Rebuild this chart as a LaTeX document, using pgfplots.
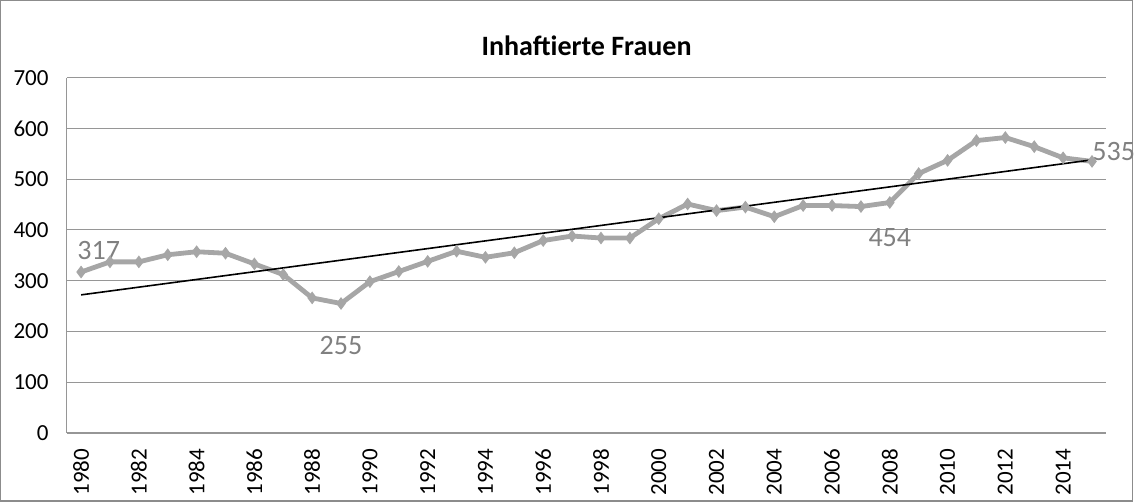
\documentclass[border=0pt]{standalone}
\usepackage{fontspec}
\setmainfont{Carlito}
\usepackage{pgfplots}
\pgfplotsset{compat=1.18}
\definecolor{linegray}{RGB}{166,166,166}
\definecolor{gridgray}{RGB}{150,150,150}
\definecolor{labelgray}{RGB}{128,128,128}
\definecolor{framegray}{RGB}{140,140,140}
\begin{document}
\begin{tikzpicture}
\begin{axis}[
  scale only axis, width=519.5pt, height=177.5pt,
  xmin=1979.5, xmax=2015.5, ymin=0, ymax=700,
  xtick={1980,1982,...,2014}, ytick={0,100,...,700},
  axis x line*=bottom, axis y line*=left,
  axis line style={gridgray, line width=0.7pt, -},
  ymajorgrids, grid style={gridgray, line width=0.5pt},
  major tick length=0pt,
  /pgf/number format/assume math mode=true,
  x tick label style={rotate=90, anchor=east, font=\fontsize{11.5}{12}\selectfont,
    /pgf/number format/1000 sep={}, xshift=-4.5pt},
  y tick label style={font=\fontsize{11.5}{12}\selectfont, xshift=-5.5pt},
  clip=false,
  title={\textbf{Inhaftierte Frauen}},
  title style={at={(0.5,1)}, anchor=center, yshift=10pt, font=\fontsize{14}{16}\selectfont},
]
% Rahmen um das Diagramm
\draw[framegray, line width=0.6pt] ([xshift=-33pt,yshift=-34pt]rel axis cs:0,0)
  rectangle ([xshift=13pt,yshift=38.5pt]rel axis cs:1,1);

\addplot[linegray, line width=2.4pt, mark=diamond*, mark size=2.8pt,
  mark options={fill=linegray, draw=linegray, line width=0.5pt}] coordinates {
  (1980,317) (1981,337) (1982,337) (1983,351) (1984,357) (1985,354)
  (1986,333) (1987,312) (1988,266) (1989,255) (1990,298) (1991,318)
  (1992,338) (1993,358) (1994,346) (1995,355) (1996,379) (1997,388)
  (1998,384) (1999,384) (2000,422) (2001,451) (2002,438) (2003,445)
  (2004,426) (2005,448) (2006,448) (2007,446) (2008,454) (2009,511)
  (2010,537) (2011,576) (2012,582) (2013,564) (2014,542) (2015,535)
};
% Trendlinie
\addplot[black, line width=0.8pt] coordinates {(1980,272) (2015,538)};

\node[labelgray, font=\fontsize{14}{16}\selectfont, anchor=south west, inner sep=0pt]
  at ([xshift=-2pt,yshift=6pt]axis cs:1980,317) {317};
\node[labelgray, font=\fontsize{14}{16}\selectfont, anchor=north, inner sep=0pt]
  at ([yshift=-16pt]axis cs:1989,255) {255};
\node[labelgray, font=\fontsize{14}{16}\selectfont, anchor=north, inner sep=0pt]
  at ([yshift=-13pt]axis cs:2008,454) {454};
\node[labelgray, font=\fontsize{14}{16}\selectfont, anchor=south west, inner sep=0pt]
  at (axis cs:2015,535) {535};
\end{axis}
\end{tikzpicture}
\end{document}
